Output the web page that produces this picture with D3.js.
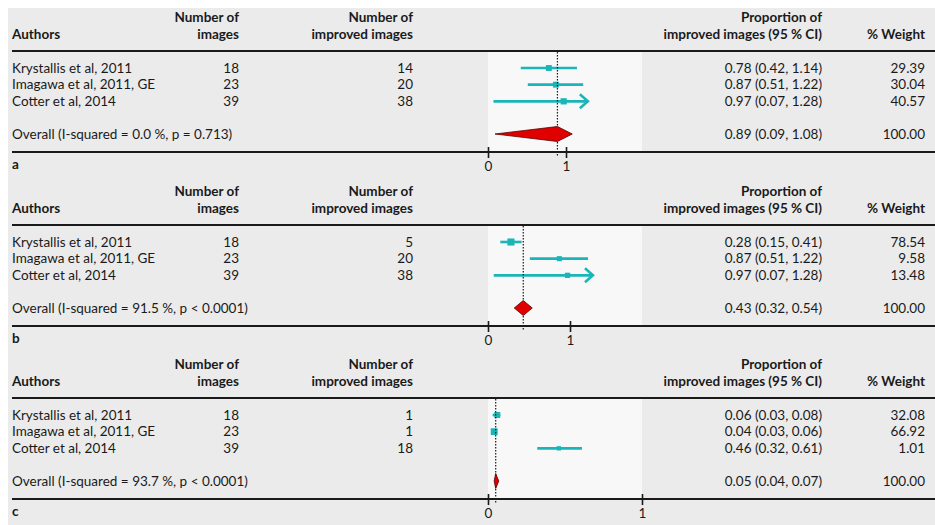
<!DOCTYPE html>
<html>
<head>
<meta charset="utf-8">
<script src="https://cdn.jsdelivr.net/npm/d3@7"></script>
<style>
  html, body { margin: 0; padding: 0; background: #ffffff; }
  svg { display: block; }
  text { font-family: Lato, "Noto Sans", sans-serif; fill: #1a1a1a; }
</style>
</head>
<body>
<svg id="chart" width="935" height="525"></svg>
<script>
// Study rows shared by all three panels
const authors = ["Krystallis et al, 2011", "Imagawa et al, 2011, GE", "Cotter et al, 2014"];
const nImages = [18, 23, 39];

// One entry per panel (a, b, c)
const panelLabels = ["a", "b", "c"];
const improved = [[14, 20, 38], [5, 20, 38], [1, 1, 18]];
const estimate = [[0.78, 0.87, 0.97], [0.28, 0.87, 0.97], [0.06, 0.04, 0.46]];
const lower = [[0.42, 0.51, 0.07], [0.15, 0.51, 0.07], [0.03, 0.03, 0.32]];
const upper = [[1.14, 1.22, 1.28], [0.41, 1.22, 1.28], [0.08, 0.06, 0.61]];
const weights = [[29.39, 30.04, 40.57], [78.54, 9.58, 13.48], [32.08, 66.92, 1.01]];
const arrowUpper = [[false, false, true], [false, false, true], [false, false, false]];

const overallEst = [0.89, 0.43, 0.05];
const overallLow = [0.09, 0.32, 0.04];
const overallHigh = [1.08, 0.54, 0.07];
const overallWeight = [100, 100, 100];
const overallText = [
  "Overall (I-squared = 0.0 %, p = 0.713)",
  "Overall (I-squared = 91.5 %, p < 0.0001)",
  "Overall (I-squared = 93.7 %, p < 0.0001)"
];

// Axis ticks and the upper end of each panel's x domain
const axisTicks = [0, 1];
const axisMax = [1.974, 1.878, 1.0];

const svg = d3.select("#chart");
const W = 935, H = 525;

const C = {
  bg: "#ebebeb",
  plotBg: "#f8f8f8",
  teal: "#1ab5b8",
  red: "#e00000",
  ink: "#1a1a1a"
};

// layout
const left = 12, right = 935;
const colImages = 239, colImproved = 413, colProp = 822, colWeight = 925;
const plotX0 = 488, plotX1 = 642;
const panelOffsets = [0, 174, 347];
const fs = 13.5;

svg.append("rect").attr("x", 8).attr("y", 8).attr("width", W - 8).attr("height", H - 8).attr("fill", C.bg);

const fmt = d3.format(".2f");
const sizeScale = d3.scaleSqrt().domain([0, 100]).range([4, 7.5]);

panelLabels.forEach((lab, p) => {
  const g = svg.append("g").attr("transform", `translate(0,${panelOffsets[p]})`);
  const x = d3.scaleLinear().domain([0, axisMax[p]]).range([plotX0, plotX1]);
  const rowY = d3.scalePoint().domain(d3.range(4)).range([68, 118]);
  const yOverall = 134;
  const topLine = 51, axisY = 152;

  // plot region
  g.append("rect").attr("x", plotX0).attr("y", topLine + 1)
    .attr("width", plotX1 - plotX0).attr("height", axisY - topLine - 2)
    .attr("fill", C.plotBg);

  // header
  const hdr = g.append("g").attr("font-weight", 700).attr("font-size", fs);
  hdr.append("text").attr("x", left).attr("y", 39).text("Authors");
  [[colImages, "Number of", "images"], [colImproved, "Number of", "improved images"],
   [colProp, "Proportion of", "improved images (95 % CI)"]].forEach(([cx, l1, l2]) => {
    hdr.append("text").attr("x", cx).attr("y", 22).attr("text-anchor", "end").text(l1);
    hdr.append("text").attr("x", cx).attr("y", 39).attr("text-anchor", "end").text(l2);
  });
  hdr.append("text").attr("x", colWeight).attr("y", 39).attr("text-anchor", "end").text("% Weight");

  // rules
  g.append("line").attr("x1", left).attr("x2", right).attr("y1", topLine).attr("y2", topLine)
    .attr("stroke", C.ink).attr("stroke-width", 2);
  g.append("line").attr("x1", left).attr("x2", right).attr("y1", axisY).attr("y2", axisY)
    .attr("stroke", C.ink).attr("stroke-width", 2);

  // study rows
  authors.forEach((a, i) => {
    const y = rowY(i);
    const t = g.append("g").attr("font-size", fs);
    t.append("text").attr("x", left).attr("y", y + 4.5).text(a);
    t.append("text").attr("x", colImages).attr("y", y + 4.5).attr("text-anchor", "end").text(nImages[i]);
    t.append("text").attr("x", colImproved).attr("y", y + 4.5).attr("text-anchor", "end").text(improved[p][i]);
    t.append("text").attr("x", colProp).attr("y", y + 4.5).attr("text-anchor", "end")
      .text(`${fmt(estimate[p][i])} (${fmt(lower[p][i])}, ${fmt(upper[p][i])})`);
    t.append("text").attr("x", colWeight).attr("y", y + 4.5).attr("text-anchor", "end").text(fmt(weights[p][i]));

    // confidence interval
    g.append("line").attr("x1", x(lower[p][i])).attr("x2", x(upper[p][i]))
      .attr("y1", y).attr("y2", y).attr("stroke", C.teal).attr("stroke-width", 2.6);
    if (arrowUpper[p][i]) {
      const xe = x(upper[p][i]);
      g.append("path").attr("d", `M${xe - 8},${y - 7} L${xe},${y} L${xe - 8},${y + 7}`)
        .attr("fill", "none").attr("stroke", C.teal).attr("stroke-width", 2.6)
        .attr("stroke-linejoin", "miter");
    }
    const s = sizeScale(weights[p][i]);
    g.append("rect").attr("x", x(estimate[p][i]) - s / 2).attr("y", y - s / 2)
      .attr("width", s).attr("height", s).attr("fill", C.teal);
  });

  // overall row
  const to = g.append("g").attr("font-size", fs);
  to.append("text").attr("x", left).attr("y", yOverall + 4.5).text(overallText[p]);
  to.append("text").attr("x", colProp).attr("y", yOverall + 4.5).attr("text-anchor", "end")
    .text(`${fmt(overallEst[p])} (${fmt(overallLow[p])}, ${fmt(overallHigh[p])})`);
  to.append("text").attr("x", colWeight).attr("y", yOverall + 4.5).attr("text-anchor", "end")
    .text(fmt(overallWeight[p]));

  // dotted line at the pooled estimate
  g.append("line").attr("x1", x(overallEst[p])).attr("x2", x(overallEst[p]))
    .attr("y1", topLine + 1).attr("y2", axisY + 4)
    .attr("stroke", C.ink).attr("stroke-width", 1.2).attr("stroke-dasharray", "1.5,1.5");

  // pooled diamond
  const dh = 7.5;
  g.append("path")
    .attr("d", `M${x(overallLow[p])},${yOverall} L${x(overallEst[p])},${yOverall - dh} L${x(overallHigh[p])},${yOverall} L${x(overallEst[p])},${yOverall + dh} Z`)
    .attr("fill", C.red).attr("stroke", "#550000").attr("stroke-width", 0.8);

  // x axis
  const ax = g.append("g").attr("transform", `translate(0,${axisY})`)
    .call(d3.axisBottom(x).tickValues(axisTicks).tickFormat(d3.format("d")).tickSize(6).tickPadding(3));
  ax.select(".domain").remove();
  ax.selectAll(".tick line").attr("y1", -5).attr("y2", 6).attr("stroke", C.ink).attr("stroke-width", 1.6);
  ax.selectAll(".tick text").attr("font-size", fs).attr("font-family", "Lato, sans-serif").attr("fill", C.ink);

  // panel letter
  g.append("text").attr("x", left).attr("y", 169).attr("font-size", fs).attr("font-weight", 700).text(lab);
});
</script>
</body>
</html>
